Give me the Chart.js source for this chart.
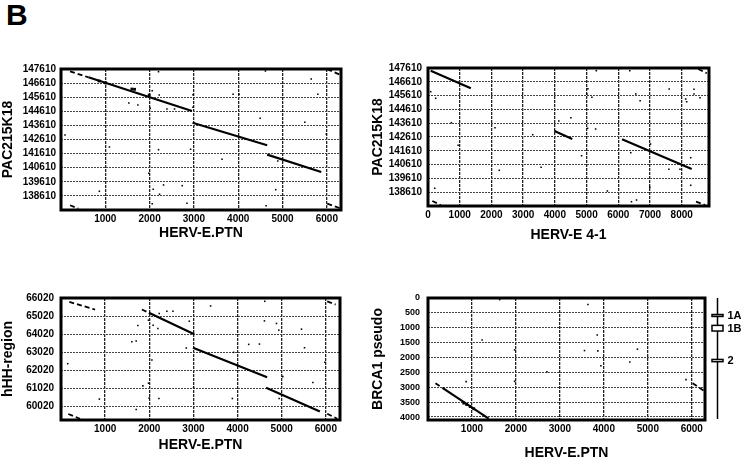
<!DOCTYPE html>
<html>
<head>
<meta charset="utf-8">
<script src="https://cdn.jsdelivr.net/npm/chart.js@4.4.1/dist/chart.umd.min.js"></script>
<style>
html, body { margin: 0; padding: 0; background: #fff; width: 744px; height: 460px; overflow: hidden; }
canvas { position: absolute; }
#tag { position: absolute; left: 6px; top: -2px; font: bold 30px "Liberation Sans", Arial, sans-serif; }
</style>
</head>
<body>
<div id="tag">B</div>
<canvas id="c1" width="370" height="202" style="left:0;top:40px"></canvas>
<canvas id="c2" width="374" height="204" style="left:370px;top:40px"></canvas>
<canvas id="c3" width="370" height="189" style="left:0;top:265px"></canvas>
<canvas id="c4" width="374" height="197" style="left:370px;top:265px"></canvas>
<script>
// tick values
const ptnTicks = [1000, 2000, 3000, 4000, 5000, 6000];
const e41Ticks = [0, 1000, 2000, 3000, 4000, 5000, 6000, 7000, 8000];
const pacTicks = [138610, 139610, 140610, 141610, 142610, 143610, 144610, 145610, 146610, 147610];
const hhTicks = [60020, 61020, 62020, 63020, 64020, 65020, 66020];
const brcaTicks = [0, 500, 1000, 1500, 2000, 2500, 3000, 3500, 4000];

// HERV-E.PTN vs PAC215K18 : [x1, y1, x2, y2]
const ptnPacLines = [
    [620, 147020, 2956, 144632],
    [2970, 143803, 4653, 142200],
    [4653, 141534, 5874, 140307],
];
const ptnPacWrap = [
    [204, 147447, 620, 147020],
    [204, 137946, 391, 137705],
    [6010, 147590, 6327, 147163],
    [6010, 138060, 6327, 137705],
];
const ptnPacSpots = [[860, 146760], [1010, 146620], [1600, 146190], [1660, 146170], [1990, 145760]];
const ptnPacDots = [
    [2201, 147419], [2058, 146071], [2217, 145767], [1531, 145199], [1735, 145058], [2013, 144824],
    [2391, 144774], [2563, 144774], [2979, 145788], [2979, 144895], [90, 142931], [1093, 142080],
    [2201, 141888], [2925, 141917], [3635, 141208], [1984, 140215], [866, 138939], [2081, 139081],
    [2314, 139386], [2737, 139336], [2224, 138726], [2843, 138088], [2058, 138060], [4614, 147468],
    [3884, 145816], [4020, 145816], [4495, 144115], [5648, 146901], [5797, 145816], [5503, 143831],
    [5988, 143002], [4893, 141087], [4847, 139052], [4630, 137918],
];

// HERV-E 4-1 vs PAC215K18
const e41PacLines = [
    [85, 147414, 1351, 146139],
    [3988, 143045, 4548, 142465],
    [6118, 142444, 8314, 140291],
];
const e41PacWrap = [
    [137, 137973, 401, 137683],
    [8523, 147537, 8789, 147226],
    [8451, 137922, 8735, 137683],
];
const e41PacDots = [
    [85, 145893], [243, 145414], [737, 143647], [950, 142009], [212, 138893], [2111, 143284],
    [2247, 140197], [3301, 142777], [3567, 140415], [4124, 143770], [4504, 144009], [4842, 141255],
    [5042, 146110], [5010, 145726], [5168, 145487], [5032, 143241], [5285, 143190], [5307, 147414],
    [5656, 138697], [6362, 147414], [6551, 145726], [6688, 145241], [6393, 141473], [6995, 138966],
    [6415, 137922], [6574, 138045], [7605, 146088], [7596, 140270], [7944, 140270], [8125, 145364],
    [8156, 145168], [8387, 146067], [8387, 145726], [8577, 145458], [8283, 141110], [8283, 139110],
    [7017, 142103],
];

// HERV-E.PTN vs hHH-region
const ptnHhLines = [
    [1990, 65200, 3019, 64021],
    [2990, 63267, 4669, 61637],
    [4647, 61048, 5864, 59743],
];
const ptnHhWrap = [
    [188, 65800, 772, 65381],
    [1832, 65381, 1990, 65200],
    [166, 59600, 431, 59341],
    [6031, 65838, 6220, 65657],
    [6031, 59616, 6258, 59341],
];
const ptnHhDots = [
    [152, 62386], [869, 60426], [1703, 59853], [1741, 64500], [1605, 63597], [1703, 63636],
    [1855, 61158], [1982, 61307], [1982, 64792], [1998, 60481], [2088, 64517], [2059, 62590],
    [2195, 64335], [2225, 65161], [2399, 65288], [2536, 65288], [2218, 60459], [2838, 63251],
    [2906, 64737], [3003, 61065], [3389, 65580], [3882, 60459], [3911, 63014], [4252, 63454],
    [4495, 63471], [4615, 65838], [4608, 64754], [4881, 64610], [4933, 64242], [5024, 61670],
    [5448, 64297], [5516, 63267], [5705, 61340], [5977, 62463], [4942, 60459],
];

// HERV-E.PTN vs BRCA1 pseudo
const ptnBrcaLines = [
    [330, 3023, 1380, 4053],
];
const ptnBrcaWrap = [
    [170, 2866, 330, 3023],
    [6020, 2866, 6299, 3143],
];
const ptnBrcaSpots = [[813, 3533], [880, 3580], [960, 3650], [1040, 3720]];
const ptnBrcaDots = [
    [1630, 53], [3637, 220], [3848, 1243], [1230, 1410], [1970, 1743], [3559, 1767], [3863, 1777],
    [3932, 2277], [4763, 1720], [4590, 2153], [867, 2810], [1970, 2800], [2706, 2477], [5868, 2743],
];

// exons drawn beside the BRCA1 pseudo plot
const exonNames = ['1A', '1B', '2'];
const exonFrom = [555, 920, 2065];
const exonTo = [620, 1110, 2140];

const FONT = '"Liberation Sans", Arial, Helvetica, sans-serif';

const frame = {
    id: 'frame',
    afterDraw(chart) {
        const a = chart.chartArea;
        const ctx = chart.ctx;
        ctx.save();
        ctx.strokeStyle = '#000';
        ctx.lineWidth = 3;
        ctx.strokeRect(a.left, a.top, a.right - a.left, a.bottom - a.top);
        ctx.restore();
    }
};

const exons = {
    id: 'exons',
    afterDraw(chart) {
        if (!chart.options.plugins.exons) return;
        const y = chart.scales.y;
        const a = chart.chartArea;
        const ctx = chart.ctx;
        const cx = a.right + 12.5;
        ctx.save();
        ctx.strokeStyle = '#000';
        ctx.lineWidth = 1.5;
        ctx.beginPath();
        ctx.moveTo(cx, a.top);
        ctx.lineTo(cx, a.bottom - 1);
        ctx.stroke();
        ctx.font = 'bold 11px ' + FONT;
        ctx.textBaseline = 'middle';
        exonNames.forEach((name, i) => {
            const y1 = y.getPixelForValue(exonFrom[i]);
            const y2 = y.getPixelForValue(exonTo[i]);
            ctx.fillStyle = '#fff';
            ctx.fillRect(cx - 5.5, y1, 11, y2 - y1);
            ctx.strokeRect(cx - 5.5, y1, 11, y2 - y1);
            ctx.fillStyle = '#000';
            ctx.fillText(name, cx + 10, (y1 + y2) / 2 + 0.5);
        });
        ctx.restore();
    }
};

function segs(list, dash, width) {
    return list.map(s => ({
        type: 'line',
        data: [{x: s[0], y: s[1]}, {x: s[2], y: s[3]}],
        borderColor: '#000',
        borderWidth: width,
        borderDash: dash,
        pointRadius: 0,
        showLine: true,
        fill: false,
    }));
}

function dots(list, r) {
    return {
        type: 'scatter',
        data: list.map(p => ({x: p[0], y: p[1]})),
        backgroundColor: '#000',
        borderWidth: 0,
        pointStyle: 'rect',
        pointRadius: r,
    };
}

function panel(id, cfg) {
    const datasets = segs(cfg.lines, [], 2.2).concat(segs(cfg.wrap, [5, 3], 1.8));
    if (cfg.spots) datasets.push(dots(cfg.spots, 2));
    datasets.push(dots(cfg.dots, 1.1));

    new Chart(id, {
        type: 'scatter',
        data: {datasets},
        options: {
            responsive: false,
            animation: false,
            events: [],
            layout: {padding: {top: cfg.padTop, right: cfg.padRight, left: 0, bottom: 0}},
            plugins: {legend: {display: false}, tooltip: {enabled: false}, exons: cfg.exons || false},
            scales: {
                x: {
                    type: 'linear',
                    min: cfg.xMin,
                    max: cfg.xMax,
                    afterBuildTicks: s => { s.ticks = cfg.xTicks.map(v => ({value: v})); },
                    afterFit: s => { s.height = cfg.xH; },
                    ticks: {color: '#000', padding: 3, maxRotation: 0, callback: v => String(v),
                        font: {family: FONT, size: 10, weight: 'bold'}},
                    grid: {drawTicks: false, color: '#222', lineWidth: 1.3},
                    border: {display: false, dash: [3, 1]},
                    title: {display: true, text: cfg.xTitle, color: '#000', padding: 0, font: {family: FONT, size: 14, weight: 'bold'}},
                },
                y: {
                    type: 'linear',
                    min: cfg.yMin,
                    max: cfg.yMax,
                    reverse: !!cfg.reverse,
                    afterBuildTicks: s => { s.ticks = cfg.yTicks.map(v => ({value: v})); },
                    afterFit: s => { s.width = cfg.yW; },
                    ticks: {color: '#000', padding: cfg.yPad, callback: v => String(v),
                        font: {family: FONT, size: cfg.ySize || 10, weight: 'bold'}},
                    grid: {drawTicks: false, color: '#444', lineWidth: 1.1},
                    border: {display: false, dash: [2, 1]},
                    title: {display: true, text: cfg.yTitle, color: '#000', padding: 0, font: {family: FONT, size: 14, weight: 'bold'}},
                }
            }
        },
        plugins: [frame, exons]
    });
}

panel('c1', {
    lines: ptnPacLines, wrap: ptnPacWrap, spots: ptnPacSpots, dots: ptnPacDots,
    xMin: 0, xMax: 6320, xTicks: ptnTicks, xTitle: 'HERV-E.PTN',
    yMin: 137610, yMax: 147610, yTicks: pacTicks, yTitle: 'PAC215K18',
    padTop: 29, padRight: 29, yW: 61, xH: 32, yPad: 5,
});

panel('c2', {
    lines: e41PacLines, wrap: e41PacWrap, dots: e41PacDots,
    xMin: 0, xMax: 8860, xTicks: e41Ticks, xTitle: 'HERV-E 4-1',
    yMin: 137610, yMax: 147610, yTicks: pacTicks, yTitle: 'PAC215K18',
    padTop: 28, padRight: 35, yW: 58, xH: 38, yPad: 6,
});

panel('c3', {
    lines: ptnHhLines, wrap: ptnHhWrap, dots: ptnHhDots,
    xMin: 0, xMax: 6320, xTicks: ptnTicks, xTitle: 'HERV-E.PTN',
    yMin: 59270, yMax: 66020, yTicks: hhTicks, yTitle: 'hHH-region',
    padTop: 33, padRight: 30, yW: 61, xH: 34, yPad: 7,
});

panel('c4', {
    lines: ptnBrcaLines, wrap: ptnBrcaWrap, spots: ptnBrcaSpots, dots: ptnBrcaDots,
    xMin: 0, xMax: 6300, xTicks: ptnTicks, xTitle: 'HERV-E.PTN',
    yMin: 0, yMax: 4100, reverse: true, yTicks: brcaTicks, yTitle: 'BRCA1 pseudo',
    padTop: 33, padRight: 39, yW: 58, xH: 42, yPad: 8, ySize: 9, exons: true,
});
</script>
</body>
</html>
